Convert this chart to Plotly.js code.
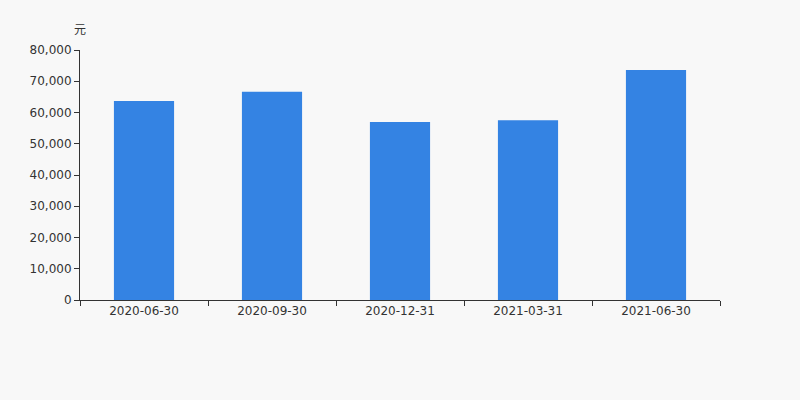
<!DOCTYPE html>
<html>
<head>
<meta charset="utf-8">
<script src="https://cdn.plot.ly/plotly-3.0.1.min.js"></script>
<style>html,body{margin:0;padding:0;background:#f8f8f8;}#chart{width:800px;height:400px;}</style>
</head>
<body>
<div id="chart"></div>
<script>
const categories = ["2020-06-30", "2020-09-30", "2020-12-31", "2021-03-31", "2021-06-30"];
const values = [63700, 66650, 56950, 57550, 73600];
const yTicks = [0, 10000, 20000, 30000, 40000, 50000, 60000, 70000, 80000];
const yTickLabels = ["0", "10,000", "20,000", "30,000", "40,000", "50,000", "60,000", "70,000", "80,000"];
const unitLabel = "元";

Plotly.newPlot("chart", [{
  type: "bar",
  x: categories,
  y: values,
  width: 0.47,
  marker: {color: "#3483e3"},
  hoverinfo: "none"
}], {
  width: 800, height: 400,
  paper_bgcolor: "#f8f8f8", plot_bgcolor: "#f8f8f8",
  margin: {l: 80, r: 80, t: 50, b: 100},
  font: {family: "DejaVu Sans", size: 12, color: "#333"},
  showlegend: false,
  xaxis: {
    type: "category",
    showgrid: false, zeroline: false,
    showline: true, linecolor: "#333", linewidth: 1,
    ticks: "outside", tickson: "boundaries", ticklen: 5, tickcolor: "#333",
    tickfont: {size: 12, color: "#333"}
  },
  yaxis: {
    range: [0, 80000],
    tickvals: yTicks, ticktext: yTickLabels,
    showgrid: false, zeroline: false,
    showline: true, linecolor: "#333", linewidth: 1,
    ticks: "outside", ticklen: 5, tickcolor: "#333",
    tickfont: {size: 12, color: "#333"}
  },
  annotations: [{
    text: unitLabel, xref: "paper", yref: "paper", x: 0, y: 1, yshift: 22,
    xanchor: "center", yanchor: "middle", showarrow: false,
    font: {family: "Noto Sans CJK SC", size: 12, color: "#333"}
  }]
}, {staticPlot: true});
</script>
</body>
</html>
